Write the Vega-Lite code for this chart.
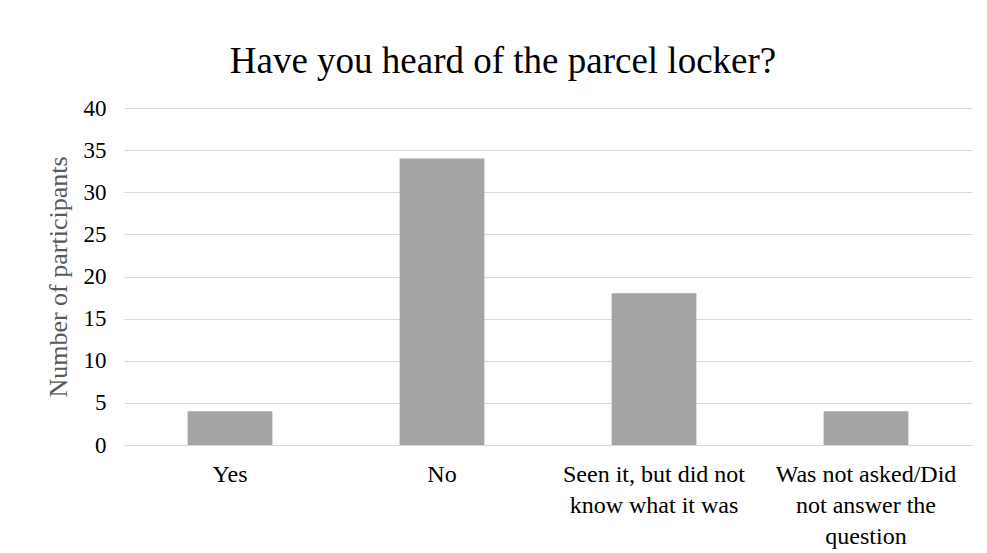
{
  "$schema": "https://vega.github.io/schema/vega-lite/v6.json",
  "width": 848,
  "height": 337,
  "autosize": {"type": "none"},
  "padding": {"left": 124, "top": 108, "right": 15, "bottom": 108},
  "background": "white",
  "title": {
    "text": "Have you heard of the parcel locker?",
    "font": "Liberation Serif",
    "fontSize": 37,
    "fontWeight": "normal",
    "color": "#000000",
    "anchor": "middle",
    "dx": -45,
    "offset": 16
  },
  "data": {
    "values": [
      {"answer": "Yes", "count": 4},
      {"answer": "No", "count": 34},
      {"answer": "Seen it, but did not know what it was", "count": 18},
      {"answer": "Was not asked/Did not answer the question", "count": 4}
    ]
  },
  "mark": {"type": "bar", "color": "#a5a5a5"},
  "encoding": {
    "x": {
      "field": "answer",
      "type": "nominal",
      "sort": null,
      "scale": {"paddingInner": 0.6, "paddingOuter": 0.3},
      "axis": {
        "title": null,
        "labelAngle": 0,
        "labelFont": "Liberation Serif",
        "labelFontSize": 24,
        "labelColor": "#000000",
        "labelPadding": 17,
        "labelLineHeight": 31,
        "labelLimit": 300,
        "labelBaseline": "top",
        "ticks": false,
        "domainColor": "#d9d9d9",
        "domainWidth": 1,
        "labelExpr": "datum.label == 'Seen it, but did not know what it was' ? ['Seen it, but did not', 'know what it was'] : datum.label == 'Was not asked/Did not answer the question' ? ['Was not asked/Did', 'not answer the', 'question'] : datum.label"
      }
    },
    "y": {
      "field": "count",
      "type": "quantitative",
      "scale": {"domain": [0, 40]},
      "axis": {
        "title": "Number of participants",
        "titleFont": "Liberation Serif",
        "titleFontSize": 26,
        "titleFontWeight": "normal",
        "titleColor": "#595959",
        "titlePadding": 12,
        "values": [0, 5, 10, 15, 20, 25, 30, 35, 40],
        "labelFont": "Liberation Serif",
        "labelFontSize": 23,
        "labelColor": "#000000",
        "labelPadding": 18,
        "ticks": false,
        "domain": false,
        "gridColor": "#d9d9d9",
        "gridWidth": 1
      }
    }
  },
  "config": {
    "font": "Liberation Serif",
    "view": {"stroke": null}
  }
}
